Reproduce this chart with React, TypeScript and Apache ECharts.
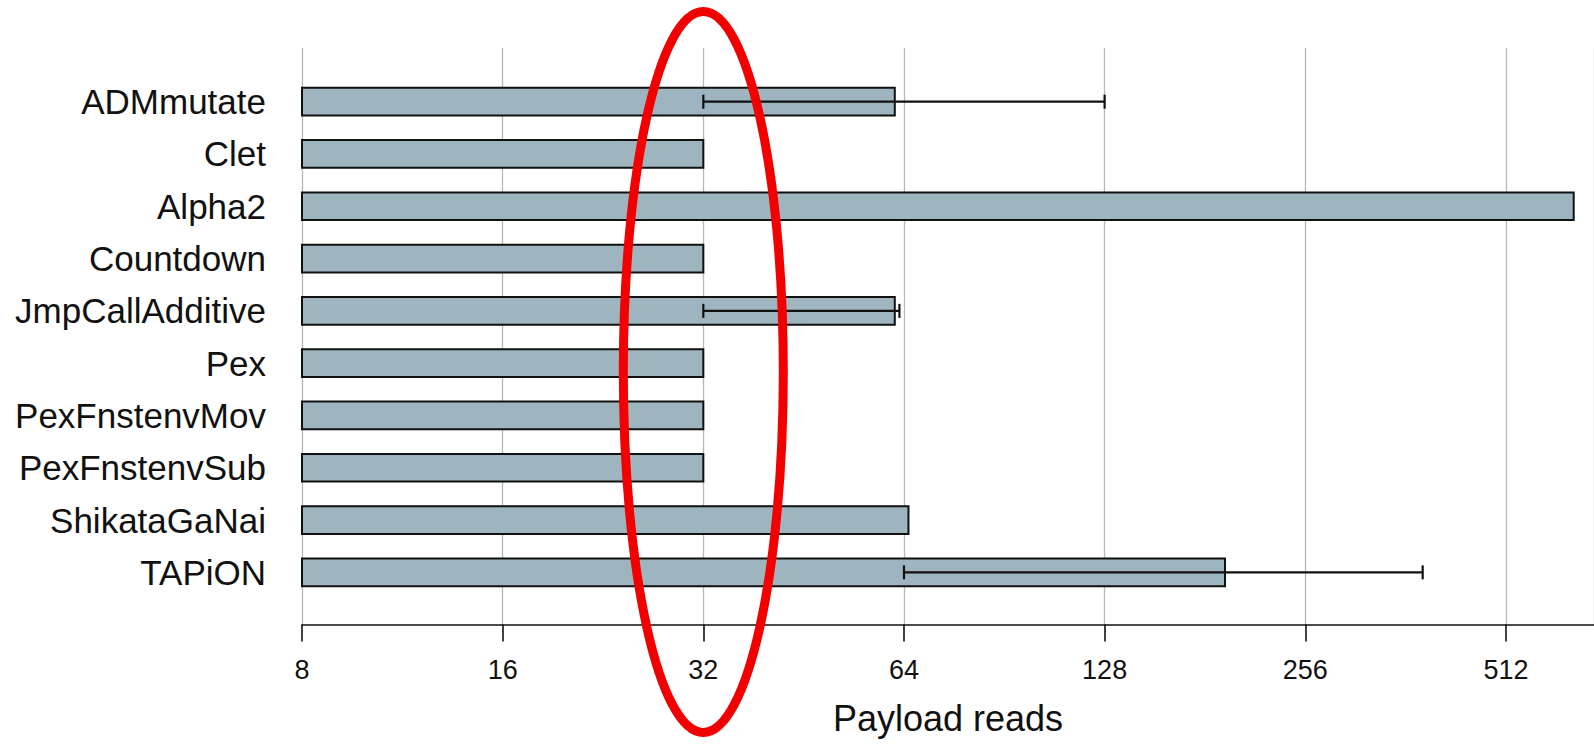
import { useEffect, useRef } from 'react';
import * as echarts from 'echarts';

// Encoder names, top to bottom
const categories = [
  'ADMmutate',
  'Clet',
  'Alpha2',
  'Countdown',
  'JmpCallAdditive',
  'Pex',
  'PexFnstenvMov',
  'PexFnstenvSub',
  'ShikataGaNai',
  'TAPiON',
];

// Mean number of payload reads per encoder
const payloadReads = [62, 32, 647, 32, 62, 32, 32, 32, 65, 194];

// Error range (min / max) where one exists
const errorLow: (number | null)[] = [32, null, null, null, 32, null, null, null, null, 64];
const errorHigh: (number | null)[] = [128, null, null, null, 63, null, null, null, null, 384];

// Log2 axis range and the value circled in red
const axisMin = 8;
const axisMax = 694;
const highlightValue = 32;

const FONT = '"Liberation Sans", Arial, sans-serif';
const BAR_FILL = '#9eb4be';
const INK = '#111111';

export default function App() {
  const ref = useRef<HTMLDivElement>(null);

  useEffect(() => {
    document.body.style.margin = '0';
    const el = ref.current;
    if (!el) return;
    const chart = echarts.init(el, null, { renderer: 'svg' });

    const barData = payloadReads.map((v, i) => [v, i]);
    const errData = categories
      .map((_, i) => [errorLow[i], errorHigh[i], i])
      .filter((d) => d[0] != null && d[1] != null);

    const option: any = {
      animation: false,
      backgroundColor: '#ffffff',
      grid: [
        // frame for gridlines and the x axis
        { left: 302, right: 0, top: 48, height: 576.5, containLabel: false },
        // bars
        { left: 302, right: 0, top: 75.5, height: 523, containLabel: false },
      ],
      xAxis: [
        {
          type: 'log',
          logBase: 2,
          gridIndex: 0,
          min: axisMin,
          max: axisMax,
          splitNumber: 7,
          name: 'Payload reads',
          nameLocation: 'middle',
          nameGap: 76,
          nameTextStyle: { fontFamily: FONT, fontSize: 36, color: INK },
          axisLine: { show: true, lineStyle: { color: INK, width: 1.6 } },
          axisTick: { show: true, length: 17, lineStyle: { color: INK, width: 1.6 } },
          axisLabel: {
            show: true,
            margin: 32,
            fontFamily: FONT,
            fontSize: 27,
            color: INK,
            showMaxLabel: false,
          },
          splitLine: { show: true, lineStyle: { color: '#b8b8b8', width: 1.3 } },
        },
        {
          type: 'log',
          logBase: 2,
          gridIndex: 1,
          min: axisMin,
          max: axisMax,
          show: false,
          splitLine: { show: false },
        },
      ],
      yAxis: [
        {
          type: 'value',
          gridIndex: 0,
          show: false,
          splitLine: { show: false },
        },
        {
          type: 'category',
          gridIndex: 1,
          data: categories,
          inverse: true,
          axisLine: { show: false },
          axisTick: { show: false },
          splitLine: { show: false },
          axisLabel: {
            margin: 36,
            fontFamily: FONT,
            fontSize: 35,
            color: INK,
          },
        },
      ],
      series: [
        {
          type: 'custom',
          name: 'Payload reads',
          xAxisIndex: 1,
          yAxisIndex: 1,
          encode: { x: 0, y: 1 },
          data: barData,
          renderItem: (params: any, api: any) => {
            const v = api.value(0);
            const c = api.value(1);
            const start = api.coord([axisMin, c]);
            const end = api.coord([v, c]);
            const h = api.size([0, 1])[1] * 0.53;
            return {
              type: 'rect',
              shape: { x: start[0], y: start[1] - h / 2, width: end[0] - start[0], height: h },
              style: { fill: BAR_FILL, stroke: INK, lineWidth: 2 },
            };
          },
          z: 2,
        },
        {
          type: 'custom',
          name: 'Range',
          xAxisIndex: 1,
          yAxisIndex: 1,
          encode: { x: [0, 1], y: 2 },
          data: errData,
          renderItem: (params: any, api: any) => {
            const lo = api.value(0);
            const hi = api.value(1);
            const c = api.value(2);
            const a = api.coord([lo, c]);
            const b = api.coord([hi, c]);
            const cap = 7;
            const style = { stroke: INK, lineWidth: 2.2 };
            return {
              type: 'group',
              children: [
                { type: 'line', shape: { x1: a[0], y1: a[1], x2: b[0], y2: b[1] }, style },
                { type: 'line', shape: { x1: a[0], y1: a[1] - cap, x2: a[0], y2: a[1] + cap }, style },
                { type: 'line', shape: { x1: b[0], y1: b[1] - cap, x2: b[0], y2: b[1] + cap }, style },
              ],
            };
          },
          z: 3,
        },
      ],
    };

    chart.setOption(option);

    // Red ellipse drawn around the highlighted value
    const cx = chart.convertToPixel({ xAxisIndex: 0 }, highlightValue) as number;
    chart.setOption({
      graphic: [
        {
          type: 'ellipse',
          shape: { cx, cy: 372, rx: 80, ry: 360.5 },
          style: { fill: 'none', stroke: '#f20000', lineWidth: 9 },
          z: 10,
        },
      ],
    });

    return () => {
      chart.dispose();
    };
  }, []);

  return (
    <div
      ref={ref}
      style={{ position: 'fixed', left: 0, top: 0, width: 1594, height: 746 }}
    />
  );
}
